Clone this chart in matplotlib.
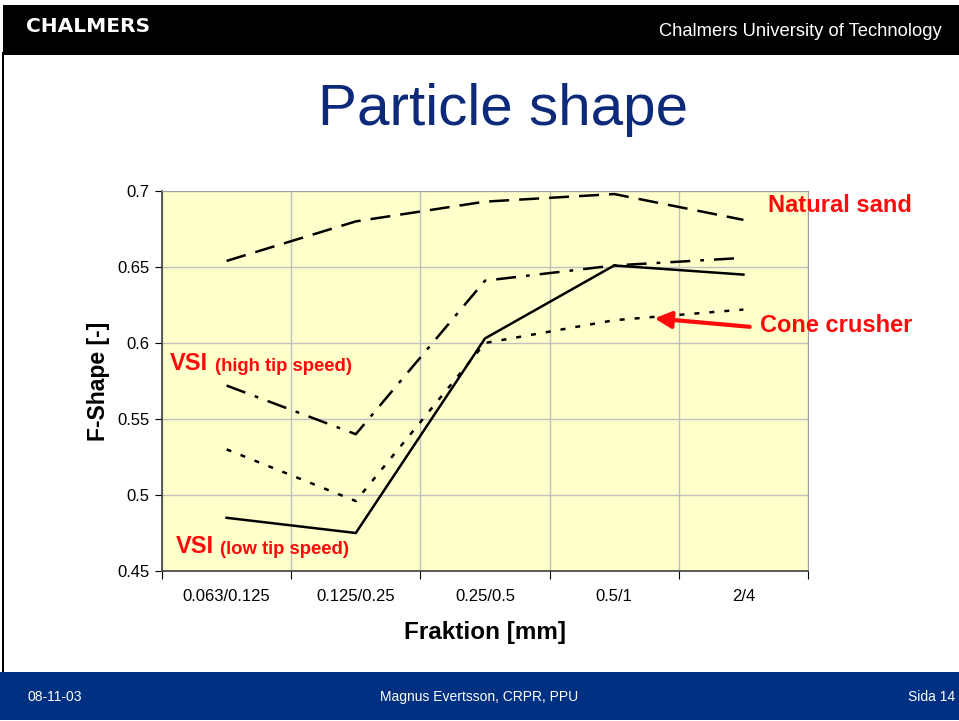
import matplotlib.pyplot as plt
from matplotlib.patches import Rectangle
import numpy as np

fractions = ["0.063/0.125", "0.125/0.25", "0.25/0.5", "0.5/1", "2/4"]
natural_sand = [0.654, 0.680, 0.693, 0.698, 0.681]
vsi_high = [0.572, 0.540, 0.641, 0.651, 0.656]
vsi_low = [0.485, 0.475, 0.603, 0.651, 0.645]
cone_crusher = [0.530, 0.496, 0.600, 0.615, 0.622]

RED = "#ff0a0a"
NAVY = "#0d2a7a"
BLUE = "#003082"

fig = plt.figure(figsize=(9.59, 7.21), dpi=100)
fig.patch.set_facecolor("white")

# slide header / footer
W, H = 959.0, 721.0
fig.patches.append(Rectangle((3 / W, 1 - 55 / H), 1, 50 / H, transform=fig.transFigure,
                             facecolor="black", edgecolor="none", zorder=0))
fig.patches.append(Rectangle((0, 1 / H), 1, 48 / H, transform=fig.transFigure,
                             facecolor=BLUE, edgecolor="none", zorder=0))
fig.patches.append(Rectangle((2 / W, 49 / H), 2 / W, 620 / H, transform=fig.transFigure,
                             facecolor="black", edgecolor="none", zorder=0))
fig.text(26 / W, 1 - 27 / H, "CHALMERS", color="white", fontsize=14.5, fontweight="bold",
         family="DejaVu Sans", va="center")
fig.text(942 / W, 1 - 31 / H, "Chalmers University of Technology", color="white",
         fontsize=13.2, family="Liberation Sans", ha="right", va="center")
fig.text(28 / W, 1 - 697 / H, "08-11-03", color="white", fontsize=10,
         family="Liberation Sans", va="center")
fig.text(479 / W, 1 - 697 / H, "Magnus Evertsson, CRPR, PPU", color="white", fontsize=10,
         family="Liberation Sans", ha="center", va="center")
fig.text(955 / W, 1 - 697 / H, "Sida 14", color="white", fontsize=10,
         family="Liberation Sans", ha="right", va="center")
fig.text(503 / W, 1 - 110 / H, "Particle shape", color=NAVY, fontsize=42,
         family="Liberation Sans", ha="center", va="center")

ax = fig.add_axes([162 / W, 150 / H, 646 / W, 380 / H])
ax.set_facecolor("#ffffcc")
x = np.arange(len(fractions))

ax.plot(x, natural_sand, color="black", lw=1.8, dashes=(8, 4))
ax.plot(x, vsi_high, color="black", lw=1.8, dashes=(8, 4, 1.5, 4))
ax.plot(x, vsi_low, color="black", lw=1.8)
ax.plot(x, cone_crusher, color="black", lw=1.8, dashes=(2, 4))

ax.set_xlim(-0.5, len(fractions) - 0.5)
ax.set_ylim(0.45, 0.7)
ax.set_yticks([0.45, 0.5, 0.55, 0.6, 0.65, 0.7])
ax.set_yticklabels(["0.45", "0.5", "0.55", "0.6", "0.65", "0.7"])
ax.set_xticks(np.arange(-0.5, len(fractions)), labels=[])
ax.set_xticks(x, labels=fractions, minor=True)
ax.tick_params(axis="x", which="minor", length=0, pad=13, labelsize=12)
ax.tick_params(axis="x", which="major", length=6, direction="out", color="black")
ax.tick_params(axis="y", length=5, direction="out", labelsize=12, pad=4)
for lab in ax.get_xticklabels(minor=True) + ax.get_yticklabels():
    lab.set_family("Liberation Sans")

ax.grid(True, which="major", color="#c0c0c0", lw=1)
ax.set_axisbelow(True)
for side in ["top", "right"]:
    ax.spines[side].set_color("#a0a0a0")
for side in ["left", "bottom"]:
    ax.spines[side].set_color("#404040")
    ax.spines[side].set_linewidth(1.2)

ax.set_xlabel("Fraktion [mm]", fontsize=17.5, fontweight="bold", family="Liberation Sans",
              labelpad=12)
ax.set_ylabel("F-Shape [-]", fontsize=16.5, fontweight="bold", family="Liberation Sans",
              labelpad=5)

# annotations
kw = dict(color=RED, fontweight="bold", family="Liberation Sans", va="center", clip_on=False)
ax.text(4.19, 0.6905, "Natural sand", fontsize=17, **kw)
ax.text(4.13, 0.6112, "Cone crusher", fontsize=17, **kw)
ax.text(-0.437, 0.5868, "VSI", fontsize=17, **kw)
ax.text(-0.09, 0.5848, "(high tip speed)", fontsize=13.3, **kw)
ax.text(-0.39, 0.4664, "VSI", fontsize=17, **kw)
ax.text(-0.05, 0.4644, "(low tip speed)", fontsize=13.3, **kw)
ax.annotate("", xy=(3.29, 0.6164), xytext=(4.07, 0.6105), annotation_clip=False,
            arrowprops=dict(arrowstyle="-|>,head_length=1.0,head_width=0.5",
                            color=RED, lw=3))

fig.savefig("out.png", dpi=100)
